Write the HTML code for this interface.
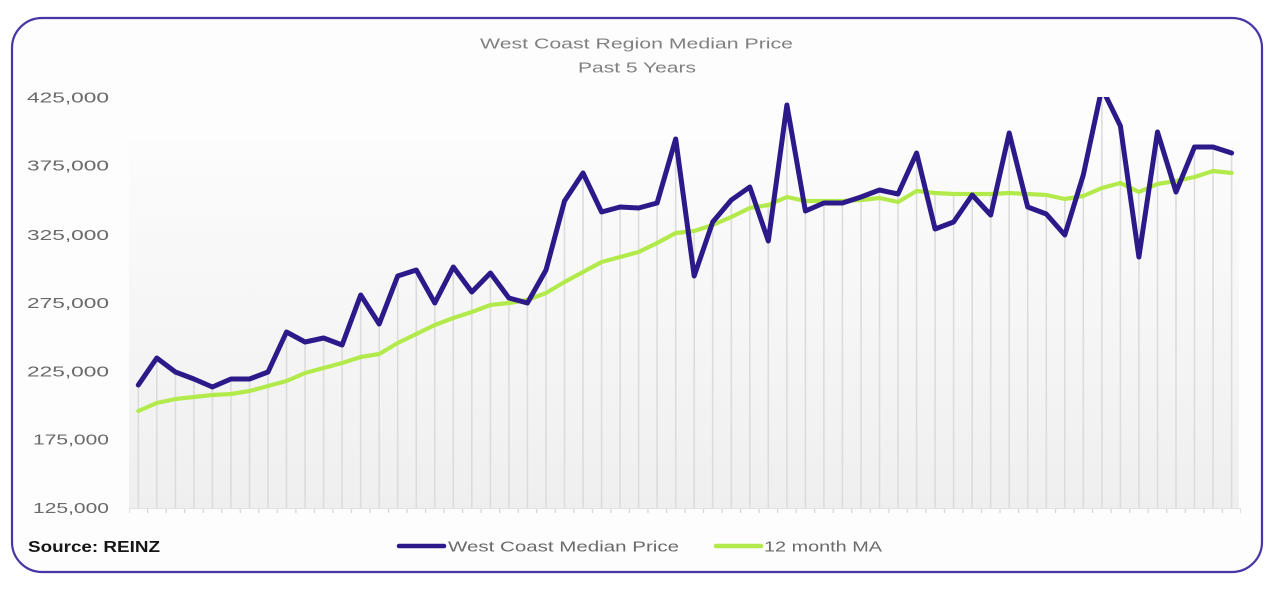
<!DOCTYPE html>
<html><head><meta charset="utf-8"><style>
html,body{margin:0;padding:0;background:#fff;width:1283px;height:600px;overflow:hidden}
svg{display:block}
text{font-family:"Liberation Sans","DejaVu Sans",sans-serif}
</style></head><body>
<svg width="1283" height="600" viewBox="0 0 1283 600" xmlns="http://www.w3.org/2000/svg">
<defs>
<linearGradient id="bg" x1="0" y1="0" x2="0" y2="1">
<stop offset="0" stop-color="#fcfcfc"/>
<stop offset="1" stop-color="#efefef"/>
</linearGradient>
<pattern id="tk" patternUnits="userSpaceOnUse" x="128.5" y="0" width="18.53" height="600">
<rect x="0" y="0" width="1.2" height="600" fill="#d4d4d4"/>
</pattern>
<clipPath id="cp"><rect x="120" y="97" width="1130" height="420"/></clipPath>
</defs>
<rect x="12" y="18" width="1250" height="554" rx="30" ry="30" fill="#fdfdfd" stroke="#4636a6" stroke-width="2.2"/>
<rect x="129" y="140" width="1110" height="368" fill="url(#bg)"/>
<rect x="129" y="508" width="1112" height="5" fill="url(#tk)"/>
<line x1="129" y1="508.5" x2="1240" y2="508.5" stroke="#e2e2e2" stroke-width="1"/>
<g stroke="#dcdcdc" stroke-width="1.6">
<line x1="138.3" y1="385" x2="138.3" y2="508"/>
<line x1="156.8" y1="358" x2="156.8" y2="508"/>
<line x1="175.4" y1="372" x2="175.4" y2="508"/>
<line x1="193.9" y1="379" x2="193.9" y2="508"/>
<line x1="212.4" y1="387" x2="212.4" y2="508"/>
<line x1="230.9" y1="379" x2="230.9" y2="508"/>
<line x1="249.5" y1="379" x2="249.5" y2="508"/>
<line x1="268.0" y1="372" x2="268.0" y2="508"/>
<line x1="286.5" y1="332" x2="286.5" y2="508"/>
<line x1="305.1" y1="342" x2="305.1" y2="508"/>
<line x1="323.6" y1="338" x2="323.6" y2="508"/>
<line x1="342.1" y1="345" x2="342.1" y2="508"/>
<line x1="360.7" y1="295" x2="360.7" y2="508"/>
<line x1="379.2" y1="324" x2="379.2" y2="508"/>
<line x1="397.7" y1="276" x2="397.7" y2="508"/>
<line x1="416.3" y1="270" x2="416.3" y2="508"/>
<line x1="434.8" y1="303" x2="434.8" y2="508"/>
<line x1="453.3" y1="267" x2="453.3" y2="508"/>
<line x1="471.8" y1="292" x2="471.8" y2="508"/>
<line x1="490.4" y1="273" x2="490.4" y2="508"/>
<line x1="508.9" y1="298" x2="508.9" y2="508"/>
<line x1="527.4" y1="300" x2="527.4" y2="508"/>
<line x1="546.0" y1="270" x2="546.0" y2="508"/>
<line x1="564.5" y1="201" x2="564.5" y2="508"/>
<line x1="583.0" y1="173" x2="583.0" y2="508"/>
<line x1="601.6" y1="212" x2="601.6" y2="508"/>
<line x1="620.1" y1="207" x2="620.1" y2="508"/>
<line x1="638.6" y1="208" x2="638.6" y2="508"/>
<line x1="657.1" y1="203" x2="657.1" y2="508"/>
<line x1="675.7" y1="139" x2="675.7" y2="508"/>
<line x1="694.2" y1="231" x2="694.2" y2="508"/>
<line x1="712.7" y1="222" x2="712.7" y2="508"/>
<line x1="731.3" y1="200" x2="731.3" y2="508"/>
<line x1="749.8" y1="187" x2="749.8" y2="508"/>
<line x1="768.3" y1="205" x2="768.3" y2="508"/>
<line x1="786.9" y1="105" x2="786.9" y2="508"/>
<line x1="805.4" y1="201" x2="805.4" y2="508"/>
<line x1="823.9" y1="201" x2="823.9" y2="508"/>
<line x1="842.4" y1="201" x2="842.4" y2="508"/>
<line x1="861.0" y1="197" x2="861.0" y2="508"/>
<line x1="879.5" y1="190" x2="879.5" y2="508"/>
<line x1="898.0" y1="194" x2="898.0" y2="508"/>
<line x1="916.6" y1="153" x2="916.6" y2="508"/>
<line x1="935.1" y1="193" x2="935.1" y2="508"/>
<line x1="953.6" y1="194" x2="953.6" y2="508"/>
<line x1="972.2" y1="194" x2="972.2" y2="508"/>
<line x1="990.7" y1="194" x2="990.7" y2="508"/>
<line x1="1009.2" y1="133" x2="1009.2" y2="508"/>
<line x1="1027.7" y1="194" x2="1027.7" y2="508"/>
<line x1="1046.3" y1="195" x2="1046.3" y2="508"/>
<line x1="1064.8" y1="199" x2="1064.8" y2="508"/>
<line x1="1083.3" y1="175" x2="1083.3" y2="508"/>
<line x1="1101.9" y1="99" x2="1101.9" y2="508"/>
<line x1="1120.4" y1="126" x2="1120.4" y2="508"/>
<line x1="1138.9" y1="192" x2="1138.9" y2="508"/>
<line x1="1157.5" y1="132" x2="1157.5" y2="508"/>
<line x1="1176.0" y1="181" x2="1176.0" y2="508"/>
<line x1="1194.5" y1="147" x2="1194.5" y2="508"/>
<line x1="1213.0" y1="147" x2="1213.0" y2="508"/>
<line x1="1231.6" y1="153" x2="1231.6" y2="508"/>
</g>
<polyline fill="none" stroke="#b3ea4b" stroke-width="4.2" stroke-linejoin="round" stroke-linecap="round" points="138.3,411 156.8,403 175.4,399 193.9,397 212.4,395 230.9,394 249.5,391 268.0,386 286.5,381 305.1,373 323.6,368 342.1,363 360.7,357 379.2,354 397.7,343 416.3,334 434.8,325 453.3,318 471.8,312 490.4,305 508.9,303 527.4,300 546.0,293 564.5,282 583.0,272 601.6,262 620.1,257 638.6,252 657.1,243 675.7,233 694.2,231 712.7,225 731.3,217 749.8,208 768.3,205 786.9,197 805.4,201 823.9,201 842.4,201 861.0,200 879.5,198 898.0,202 916.6,191 935.1,193 953.6,194 972.2,194 990.7,194 1009.2,193 1027.7,194 1046.3,195 1064.8,199 1083.3,196 1101.9,188 1120.4,183 1138.9,192 1157.5,184 1176.0,181 1194.5,177 1213.0,171 1231.6,173"/>
<g clip-path="url(#cp)">
<polyline fill="none" stroke="#2d1a8a" stroke-width="5" stroke-linejoin="round" stroke-linecap="round" points="138.3,385 156.8,358 175.4,372 193.9,379 212.4,387 230.9,379 249.5,379 268.0,372 286.5,332 305.1,342 323.6,338 342.1,345 360.7,295 379.2,324 397.7,276 416.3,270 434.8,303 453.3,267 471.8,292 490.4,273 508.9,298 527.4,303 546.0,270 564.5,201 583.0,173 601.6,212 620.1,207 638.6,208 657.1,203 675.7,139 694.2,276 712.7,222 731.3,200 749.8,187 768.3,241 786.9,105 805.4,211 823.9,203 842.4,203 861.0,197 879.5,190 898.0,194 916.6,153 935.1,229 953.6,222 972.2,195 990.7,215 1009.2,133 1027.7,207 1046.3,214 1064.8,235 1083.3,175 1101.9,88 1120.4,126 1138.9,257 1157.5,132 1176.0,192 1194.5,147 1213.0,147 1231.6,153"/>
</g>
<g fill="#6a6a6a" font-size="15" text-anchor="end">
<text x="109" y="102.5" textLength="82" lengthAdjust="spacingAndGlyphs">425,000</text>
<text x="109" y="170.5" textLength="82" lengthAdjust="spacingAndGlyphs">375,000</text>
<text x="109" y="240" textLength="82" lengthAdjust="spacingAndGlyphs">325,000</text>
<text x="109" y="308" textLength="82" lengthAdjust="spacingAndGlyphs">275,000</text>
<text x="109" y="376.5" textLength="82" lengthAdjust="spacingAndGlyphs">225,000</text>
<text x="109" y="444.5" textLength="76" lengthAdjust="spacingAndGlyphs">175,000</text>
<text x="109" y="513" textLength="76" lengthAdjust="spacingAndGlyphs">125,000</text>
</g>
<g fill="#808080" font-size="15">
<text x="480" y="48.5" textLength="313" lengthAdjust="spacingAndGlyphs">West Coast Region Median Price</text>
<text x="578" y="72.5" textLength="118" lengthAdjust="spacingAndGlyphs">Past 5 Years</text>
</g>
<text x="28" y="552" font-size="16" font-weight="bold" fill="#151515" textLength="132" lengthAdjust="spacingAndGlyphs">Source: REINZ</text>
<line x1="399" y1="546" x2="444" y2="546" stroke="#2d1a8a" stroke-width="4.5" stroke-linecap="round"/>
<line x1="716" y1="546" x2="761" y2="546" stroke="#b3ea4b" stroke-width="4.5" stroke-linecap="round"/>
<g fill="#6a6a6a" font-size="15">
<text x="448" y="551.5" textLength="231" lengthAdjust="spacingAndGlyphs">West Coast Median Price</text>
<text x="764" y="551.5" textLength="118" lengthAdjust="spacingAndGlyphs">12 month MA</text>
</g>
</svg>
</body></html>
